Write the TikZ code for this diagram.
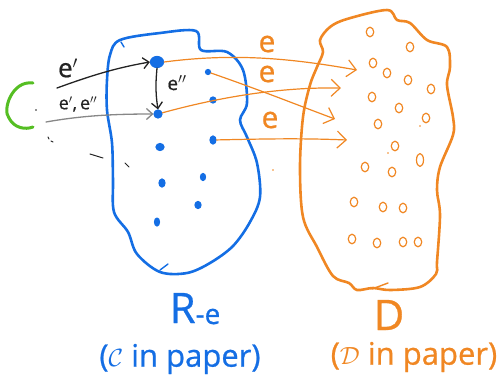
\documentclass[tikz,border=0pt]{standalone}
\usepackage{fontspec}
\setmainfont{Open Sans}[FakeBold=0.7]
\usetikzlibrary{arrows.meta,shapes.geometric}
\definecolor{penblue}{RGB}{20,110,228}
\definecolor{penorange}{RGB}{240,135,35}
\definecolor{pengreen}{RGB}{85,190,35}
\definecolor{pengray}{RGB}{135,135,135}
\definecolor{penblack}{RGB}{35,35,35}
\tikzset{
  blob/.style={line width=2.6pt, line cap=round, line join=round},
  bdot/.style={circle, fill=penblue, draw=penblue, line width=1.2pt, inner sep=0pt},
  odot/.style={ellipse, draw=penorange, line width=1.2pt, inner sep=0pt,
               minimum width=7.5pt, minimum height=9.5pt},
  oarrow/.style={draw=penorange, line width=1.2pt,
                 -{Straight Barb[length=9pt,width=17pt,line width=1.2pt]}},
  karrow/.style={line width=1.3pt,
                 -{Straight Barb[length=6pt,width=11pt,line width=1.3pt]}},
  lbl/.style={inner sep=0pt},
}
\begin{document}
\begin{tikzpicture}[x=1pt,y=-1pt, line cap=round, line join=round]
\useasboundingbox (0,0) rectangle (500,384);

% region R_{-e}
\draw[blob, penblue] plot[smooth cycle, tension=0.55] coordinates {
  (120,40) (160,33) (196,31) (201,50) (227,52) (243,70) (247,103)
  (240,120) (247,137) (257,163) (260,197) (250,222) (233,246)
  (210,263) (187,273) (160,272) (137,254) (128,232) (114,212)
  (113,180) (112,143) (107,110) (107,80) (110,55)};
\draw[penblue, line width=1.4pt] (121,42) -- (124,47);
\draw[penblue, line width=1.4pt] (160,270) -- (168,264);

% region D
\draw[blob, penorange] plot[smooth cycle, tension=0.55] coordinates {
  (347,19) (387,10) (397,20) (410,23) (427,40) (447,47) (450,67)
  (447,85) (453,117) (453,135) (440,167) (437,190) (440,215)
  (437,262) (436,274) (420,287) (390,290) (373,288) (357,290)
  (349,283) (333,276) (317,247) (303,217) (300,167) (303,117)
  (310,85) (317,67) (323,52) (320,40) (330,27)};
\draw[penorange, line width=1.4pt] (372,289) -- (388,283);

% elements of R_{-e}
\node[bdot, minimum width=13pt, minimum height=11pt, ellipse] (b1) at (157,62) {};
\node[bdot, minimum size=8pt] (b2) at (158,114) {};
\node[bdot, minimum size=5pt] (b3) at (208,72) {};
\node[bdot, minimum size=6pt] (b4) at (213,100) {};
\node[bdot, minimum width=8pt, minimum height=7pt, ellipse] (b5) at (160,147) {};
\node[bdot, minimum width=6pt, minimum height=8pt, ellipse] (b6) at (213,140) {};
\node[bdot, minimum width=6pt, minimum height=8pt, ellipse] (b7) at (162,183) {};
\node[bdot, minimum width=5pt, minimum height=7pt, ellipse] (b8) at (203,177) {};
\node[bdot, minimum width=6pt, minimum height=7pt, ellipse] (b9) at (198,205) {};
\node[bdot, minimum width=5pt, minimum height=8pt, ellipse] (b10) at (157,222) {};

% elements of D
\foreach \n/\x/\y in {1/370/32, 2/410/47, 3/373/63, 4/387/73, 5/408/80,
    6/431/89, 7/372/97, 8/399/108, 9/378/124, 10/426/118, 11/395/146,
    12/365/167, 13/392/172, 14/354/202, 15/383/207, 16/403/208,
    17/352/239, 18/377/243, 19/403/242, 20/418/242}
  \node[odot] (d\n) at (\x,\y) {};
\node[odot, minimum width=7pt, minimum height=13pt] (d21) at (420,160) {};
\fill[penorange] (420,126) circle (0.9pt) (388,153) circle (0.9pt)
                 (273,170) circle (0.9pt);

% arrow heads inside D
\coordinate (t1) at (357,70);
\coordinate (t2) at (335,119);
\coordinate (t3) at (341,88);
\coordinate (t4) at (347,140);

% the map e into D
\draw[oarrow] (b1.east) .. controls (240,52) and (300,60) .. (t1);
\draw[oarrow] (b3) .. controls (260,90) and (300,106) .. (t2);
\draw[oarrow] (b2) .. controls (220,97) and (280,87) .. (t3);
\draw[oarrow] (b6) .. controls (260,139) and (300,138) .. (t4);
\node[lbl, penorange, font=\fontsize{30}{30}\selectfont] (le1) at (267,44) {e};
\node[lbl, penorange, font=\fontsize{30}{30}\selectfont] (le2) at (267,74) {e};
\node[lbl, penorange, font=\fontsize{30}{30}\selectfont] (le3) at (270,120) {e};

% the set C and its arrows
\draw[pengreen, line width=3pt] (33,83) .. controls (12,80) and (2,110) .. (9,118)
      .. controls (14,128) and (25,130) .. (33,127);
\coordinate (s1) at (57,88);
\coordinate (s2) at (46,122);
\draw[karrow, penblack] (s1) .. controls (90,76) and (115,68) .. (b1.west);
\draw[karrow, pengray] (s2) .. controls (80,116) and (110,114) .. (b2.west);
\draw[karrow, penblack] (b1.south) .. controls (156,80) and (155,90) .. (b2.north);
\node[lbl, penblack, font=\fontsize{26}{26}\selectfont] (lp) at (68,68) {e$'$};
\node[lbl, penblack, font=\fontsize{18}{18}\selectfont] (lpp) at (78,104) {e$'$,\,e$''$};
\node[lbl, penblack, font=\fontsize{19}{19}\selectfont] (lq) at (177,83) {e$''$};

% stray pen marks
\fill[penblack] (36,110) circle (0.8pt);
\draw[penblack, line width=1pt] (48,137) -- (49,139) (51,141) -- (53,142)
      (90,154) -- (103,158) (125,163) -- (129,167);

% captions
\node[lbl, penblue, anchor=base] (rname) at (195,323)
  {{\fontsize{42}{42}\selectfont R}\raisebox{-1pt}{\fontsize{28}{28}\selectfont -e}};
\node[lbl, penblue, font=\fontsize{31}{31}\selectfont] (rpaper) at (180,359)
  {($\mathcal{C}$ in paper)};
\node[lbl, penorange, font=\fontsize{42}{42}\selectfont] (dname) at (389,315) {D};
\node[lbl, penorange, font=\fontsize{31}{31}\selectfont] (dpaper) at (414,357)
  {($\mathcal{D}$ in paper)};
\end{tikzpicture}
\end{document}
